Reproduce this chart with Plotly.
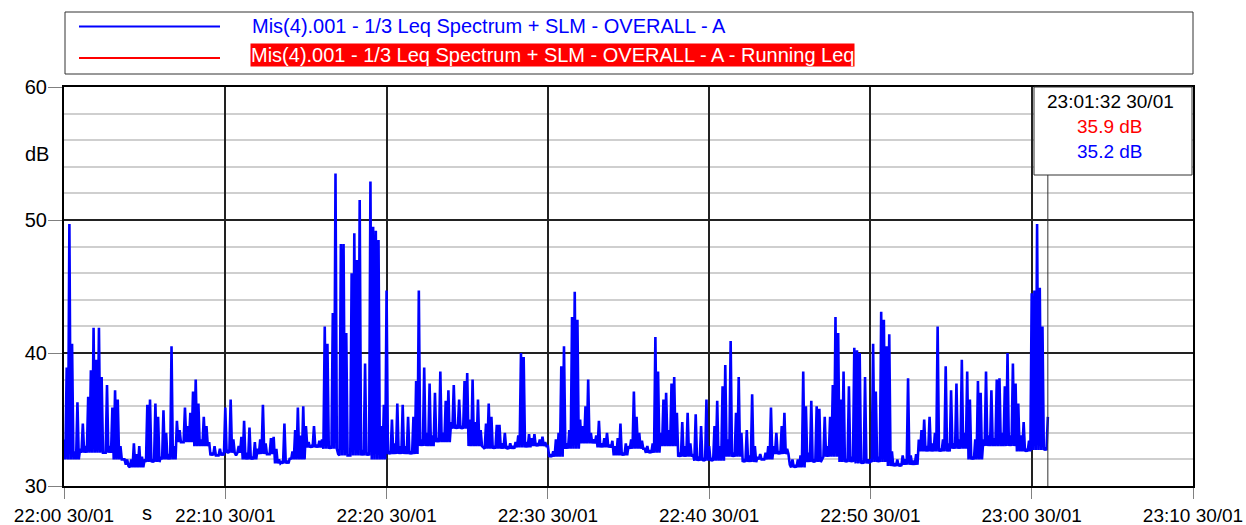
import plotly.graph_objects as go
import pandas as pd

# ---------------- data ----------------
start_time = "2024-01-30 22:00:00"
sample_step_s = 10  # one reading every 10 s

# LAeq (dB) readings, one row per minute from 22:00 to 23:00, plus the final reading
leq_a_db = [
    33.5, 38.9, 49.7, 40.7, 32.6, 36.3,   # 22:00
    32.8, 34.7, 33.0, 36.7, 38.7, 41.9,
    39.5, 41.9, 38.2, 32.5, 37.6, 33.0,
    35.9, 37.2, 36.5, 33.0, 32.0, 31.6,
    31.5, 32.0, 33.2, 32.4, 33.0, 32.2,
    32.0, 36.1, 36.5, 31.9, 36.2, 35.2,   # 22:05
    32.2, 35.7, 34.0, 32.4, 40.5, 33.0,
    34.9, 34.2, 33.3, 35.9, 34.5, 35.5,
    37.1, 38.0, 36.2, 33.5, 35.2, 34.5,
    33.3, 32.5, 33.0, 32.3, 32.8, 32.5,
    35.9, 32.6, 36.5, 33.5, 32.3, 33.0,   # 22:10
    33.7, 34.9, 32.5, 34.4, 32.2, 33.3,
    32.8, 33.5, 36.1, 33.2, 32.4, 33.6,
    33.7, 32.8, 32.0, 31.8, 34.7, 31.9,
    32.1, 32.6, 34.2, 35.9, 33.8, 36.0,
    34.5, 33.3, 33.0, 34.5, 33.1, 33.4,   # 22:15
    33.5, 42.0, 40.7, 33.0, 43.0, 53.5,
    32.4, 48.2, 48.2, 41.5, 32.3, 46.0,
    49.0, 47.0, 51.5, 32.7, 39.2, 32.5,
    52.9, 49.5, 49.2, 48.5, 34.5, 36.1,
    44.7, 32.6, 35.0, 33.2, 36.2, 33.0,   # 22:20
    36.1, 33.0, 35.2, 32.6, 35.2, 37.9,
    44.7, 33.5, 38.9, 34.0, 37.7, 33.8,
    37.0, 33.6, 38.6, 34.0, 36.4, 37.2,
    34.8, 37.6, 34.6, 36.5, 34.5, 37.9,
    38.5, 35.0, 38.0, 34.8, 36.5, 34.2,   # 22:25
    32.9, 34.7, 36.2, 35.2, 33.0, 34.6,
    34.6, 33.2, 34.0, 32.9, 33.2, 33.0,
    33.3, 33.8, 40.0, 39.7, 33.3, 33.9,
    33.6, 33.9, 33.2, 33.5, 33.7, 33.3,
    33.0, 32.3, 32.6, 33.5, 34.0, 39.0,   # 22:30
    40.5, 33.2, 34.2, 42.7, 44.6, 42.5,
    35.0, 34.5, 36.0, 38.0, 34.0, 33.5,
    33.8, 34.9, 33.2, 33.6, 34.0, 33.1,
    33.4, 33.0, 33.6, 34.7, 32.5, 33.2,
    33.0, 33.5, 37.1, 35.2, 34.0, 33.4,   # 22:35
    32.8, 33.0, 32.6, 33.2, 41.2, 38.6,
    34.0, 36.5, 37.0, 34.2, 37.7, 38.2,
    35.5, 32.5, 34.8, 33.0, 35.5, 33.2,
    32.4, 35.4, 32.2, 34.5, 32.0, 36.5,
    33.0, 32.0, 34.5, 36.4, 33.0, 37.5,   # 22:40
    39.1, 33.5, 40.9, 32.5, 35.5, 38.2,
    34.0, 32.0, 34.2, 32.3, 36.9, 33.0,
    32.2, 32.4, 32.0, 32.5, 33.0, 35.9,
    33.0, 34.0, 32.6, 34.5, 35.5, 32.8,
    31.6, 32.0, 31.5, 32.0, 32.3, 38.6,   # 22:45
    36.0, 32.5, 36.4, 31.9, 36.0, 35.8,
    32.0, 35.2, 33.0, 35.2, 37.6, 42.7,
    41.5, 36.5, 38.6, 32.0, 37.5, 32.2,
    40.4, 40.2, 40.0, 31.8, 38.2, 32.0,
    31.9, 40.7, 37.1, 32.2, 43.1, 42.5,   # 22:50
    40.5, 41.4, 32.6, 31.7, 32.0, 31.6,
    32.3, 32.0, 38.1, 32.3, 31.9, 32.4,
    33.5, 34.2, 35.0, 33.0, 35.2, 33.2,
    34.0, 42.0, 32.8, 33.5, 39.0, 33.2,
    37.2, 33.2, 37.7, 33.5, 39.5, 34.0,   # 22:55
    38.6, 36.5, 32.2, 33.5, 37.9, 37.0,
    33.5, 38.6, 33.8, 37.2, 33.6, 38.0,
    38.1, 34.0, 37.5, 40.0, 33.8, 39.2,
    37.7, 36.2, 33.8, 34.8, 32.7, 33.4,
    44.5, 44.7, 49.7, 44.9, 42.0, 32.8,   # 23:00
    35.2,
]

# lower envelope of the trace for each minute (dB), 22:00 ... 23:00
leq_floor_db = [
    32.0, 32.5, 32.5, 32.0, 31.4, 31.8, 32.0, 33.3, 33.0, 32.3,
    32.5, 32.0, 32.4, 31.7, 32.0, 32.9, 32.8, 32.3, 32.3, 32.0,
    32.4, 32.4, 33.0, 33.3, 34.3, 33.0, 32.8, 32.8, 32.9, 33.0,
    32.2, 32.8, 33.2, 32.9, 32.3, 32.8, 32.5, 33.0, 32.2, 31.9,
    31.9, 32.2, 31.8, 32.0, 32.4, 31.4, 31.8, 32.2, 31.8, 31.7,
    31.8, 31.5, 31.6, 32.6, 32.6, 32.8, 32.0, 33.0, 33.0, 32.6,
    32.7,
]

series_names = [
    "Mis(4).001 - 1/3 Leq Spectrum + SLM - OVERALL - A",
    "Mis(4).001 - 1/3 Leq Spectrum + SLM - OVERALL - A - Running Leq",
]
cursor_label = "23:01:32 30/01"
cursor_running_leq = 35.9
cursor_leq = 35.2

x_range = ["2024-01-30 22:00:00", "2024-01-30 23:10:00"]
y_range = [30, 60]
y_major_ticks = [30, 40, 50, 60]

# ---------------- figure ----------------
W, H = 1246, 525
L, R, T, B = 64, 1193, 87, 486          # plot-area pixel box


def px_x(x):
    return (x - L) / (R - L)


def px_y(y):
    return (B - y) / (B - T)


t0 = pd.Timestamp(start_time)
step = pd.Timedelta(seconds=sample_step_s)
times, levels = [], []
for i, v in enumerate(leq_a_db):
    t = t0 + step * i
    times.append(t)
    levels.append(v)
    if i < len(leq_a_db) - 1:
        times.append(t + step / 2)
        levels.append(leq_floor_db[i // 6])
cursor_time = times[-1]

FONT = "Liberation Sans, Arial, sans-serif"
BLUE = "#0000ff"
RED = "#ff0000"

fig = go.Figure()
fig.add_trace(go.Scatter(
    x=times, y=levels, mode="lines",
    line=dict(color=BLUE, width=2.6),
    name=series_names[0], showlegend=False, hoverinfo="skip",
))

shapes = []
annotations = []

# legend box
shapes.append(dict(type="rect", xref="paper", yref="paper",
                   x0=px_x(65), x1=px_x(1193), y0=px_y(74), y1=px_y(12),
                   line=dict(color="#333333", width=1), fillcolor="white", layer="above"))
shapes.append(dict(type="line", xref="paper", yref="paper",
                   x0=px_x(79), x1=px_x(220), y0=px_y(26.5), y1=px_y(26.5),
                   line=dict(color=BLUE, width=2)))
shapes.append(dict(type="line", xref="paper", yref="paper",
                   x0=px_x(79), x1=px_x(220), y0=px_y(58), y1=px_y(58),
                   line=dict(color=RED, width=2)))
annotations.append(dict(xref="paper", yref="paper", x=px_x(250), y=px_y(25.5),
                        xanchor="left", yanchor="middle", showarrow=False,
                        text=series_names[0], font=dict(family=FONT, size=20, color=BLUE)))
annotations.append(dict(xref="paper", yref="paper", x=px_x(250), y=px_y(55),
                        xanchor="left", yanchor="middle", showarrow=False,
                        text=series_names[1], bgcolor=RED, borderpad=0,
                        font=dict(family=FONT, size=20, color="white")))

# cursor read-out box and cursor line
shapes.append(dict(type="rect", xref="paper", yref="paper",
                   x0=px_x(1034), x1=px_x(1192), y0=px_y(175), y1=px_y(87),
                   line=dict(color="#333333", width=1), fillcolor="white", layer="above"))
shapes.append(dict(type="line", xref="x", yref="paper",
                   x0=cursor_time, x1=cursor_time, y0=0, y1=px_y(175),
                   line=dict(color="#333333", width=1), layer="above"))
cx = px_x(1110)
for txt, yy, col in [(cursor_label, 101, "black"),
                     (f"{cursor_running_leq:.1f} dB", 126, RED),
                     (f"{cursor_leq:.1f} dB", 151, BLUE)]:
    annotations.append(dict(xref="paper", yref="paper", x=cx, y=px_y(yy),
                            xanchor="center", yanchor="middle", showarrow=False,
                            text=txt, font=dict(family=FONT, size=19, color=col)))

# axis unit labels
annotations.append(dict(xref="paper", yref="y", x=px_x(37), y=55, showarrow=False,
                        xanchor="center", yanchor="middle",
                        text="dB", font=dict(family=FONT, size=20, color="black")))
annotations.append(dict(xref="paper", yref="paper", x=px_x(147), y=px_y(513), showarrow=False,
                        xanchor="center", yanchor="middle",
                        text="s", font=dict(family=FONT, size=20, color="black")))

fig.update_layout(
    width=W, height=H,
    margin=dict(l=L, r=W - R, t=T, b=H - B),
    paper_bgcolor="white", plot_bgcolor="white",
    showlegend=False,
    font=dict(family=FONT, size=19, color="black"),
    shapes=shapes, annotations=annotations,
)
fig.update_xaxes(
    type="date", range=x_range, automargin=False,
    tick0=x_range[0], dtick=600000, tickformat="%H:%M %d/%m",
    ticks="outside", ticklen=11, tickcolor="#808080", tickwidth=1,
    showgrid=True, gridcolor="#222222", gridwidth=1.5,
    showline=True, linecolor="black", linewidth=2, mirror=True,
    tickfont=dict(family=FONT, size=19, color="black"),
    zeroline=False,
)
fig.update_yaxes(
    range=y_range, tickvals=y_major_ticks, automargin=False,
    ticks="outside", ticklen=14, tickcolor="#808080", tickwidth=1,
    ticklabelstandoff=-3,
    showgrid=True, gridcolor="#222222", gridwidth=1.5,
    minor=dict(dtick=2, showgrid=True, gridcolor="#cfcfcf", gridwidth=1.5, ticks=""),
    showline=True, linecolor="black", linewidth=2, mirror=True,
    tickfont=dict(family=FONT, size=20, color="black"),
    zeroline=False,
)

fig.write_html(
    "out.html",
    config={"displayModeBar": False},
    post_script="document.body.style.margin='0';document.body.style.overflow='hidden';",
)
